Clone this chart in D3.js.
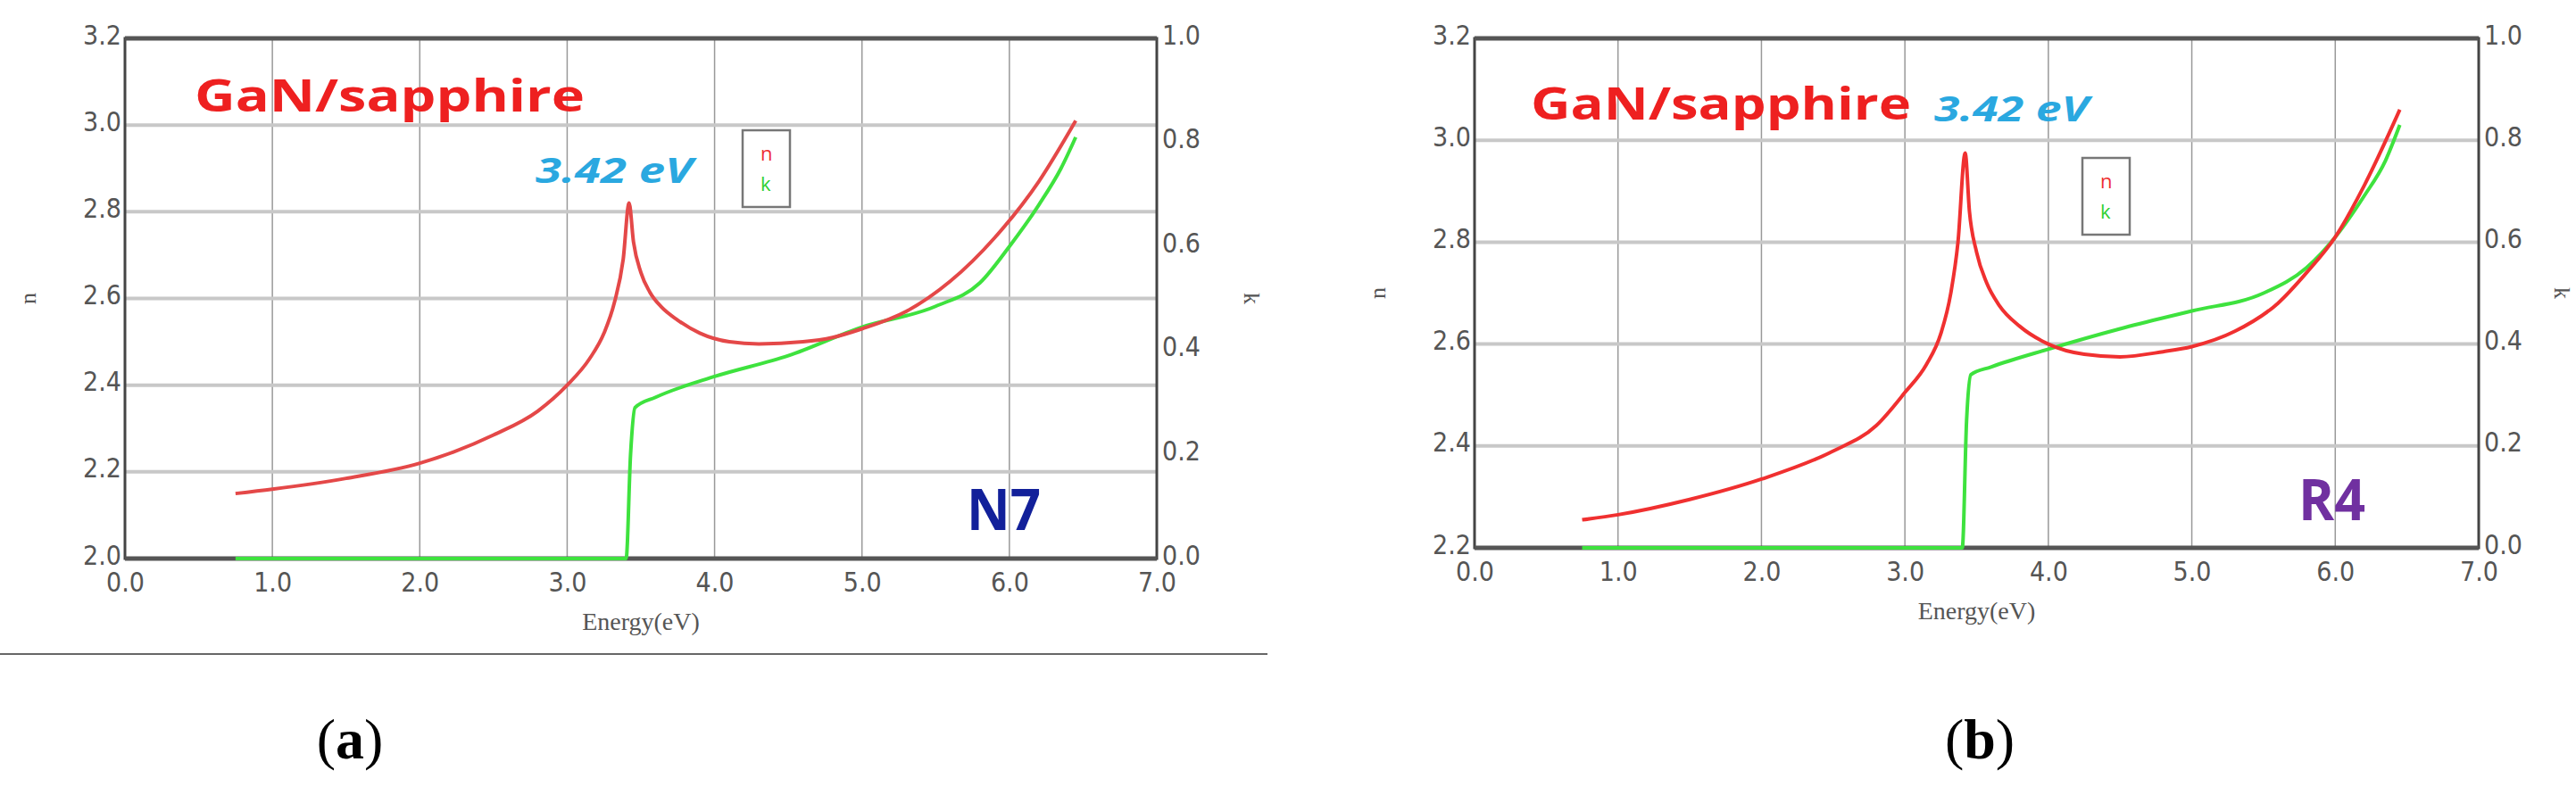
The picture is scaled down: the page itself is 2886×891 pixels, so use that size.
<!DOCTYPE html>
<html><head><meta charset="utf-8">
<script src="https://cdn.jsdelivr.net/npm/d3@7"></script>
<style>body{margin:0;background:#fff}</style></head>
<body><svg id="c" width="2886" height="891"></svg>
<script>
const xTicks=[0,1,2,3,4,5,6,7];
const kTicks=[0,0.2,0.4,0.6,0.8,1.0];
const nA_E=[0.75,1.0,1.5,2.0,2.5,2.8,3.0,3.15,3.25,3.32,3.38,3.42,3.45,3.5,3.56,3.64,3.75,3.9,4.1,4.3,4.6,4.8,5.0,5.3,5.6,5.9,6.2,6.45];
const nA_V=[2.15,2.16,2.185,2.22,2.285,2.34,2.40,2.46,2.52,2.59,2.69,2.82,2.73,2.66,2.615,2.58,2.55,2.52,2.50,2.495,2.50,2.51,2.53,2.57,2.64,2.74,2.87,3.01];
const kA_E=[0.75,3.40,3.43,3.46,3.6,4.0,4.5,5.0,5.5,5.8,6.0,6.2,6.35,6.45];
const kA_V=[0,0,0.2,0.29,0.31,0.35,0.39,0.445,0.485,0.53,0.60,0.68,0.75,0.81];
const nB_E=[0.75,1.0,1.5,2.0,2.5,2.8,3.0,3.15,3.25,3.32,3.37,3.42,3.45,3.5,3.57,3.66,3.8,4.0,4.25,4.5,4.8,5.0,5.3,5.6,5.8,6.0,6.2,6.45];
const nB_V=[2.255,2.265,2.295,2.335,2.39,2.44,2.505,2.56,2.62,2.70,2.80,2.975,2.86,2.78,2.72,2.675,2.635,2.60,2.58,2.575,2.585,2.595,2.625,2.68,2.74,2.81,2.91,3.06];
const kB_E=[0.75,3.40,3.43,3.46,3.6,4.0,4.5,5.0,5.5,5.8,6.0,6.2,6.35,6.45];
const kB_V=[0,0,0.25,0.34,0.355,0.39,0.43,0.465,0.50,0.55,0.61,0.69,0.76,0.83];

const svg=d3.select("#c");
const tickFont="'DejaVu Sans Condensed','Liberation Sans Narrow',sans-serif";
function panel(o){
  const g=svg.append("g");
  const x=d3.scaleLinear().domain([0,7]).range([o.l,o.r]);
  const y=d3.scaleLinear().domain(o.nDom).range([o.b,o.t]);
  const yk=d3.scaleLinear().domain([0,1]).range([o.b,o.t]);
  const nTicks=d3.range(o.nDom[0],o.nDom[1]+0.001,0.2);
  g.selectAll(".vg").data(xTicks).join("line").attr("x1",d=>x(d)).attr("x2",d=>x(d)).attr("y1",o.t).attr("y2",o.b).attr("stroke","#999").attr("stroke-width",1.5);
  g.selectAll(".hg").data(nTicks).join("line").attr("x1",o.l).attr("x2",o.r).attr("y1",d=>y(d)).attr("y2",d=>y(d)).attr("stroke","#c8c8c8").attr("stroke-width",4);
  g.append("rect").attr("x",o.l).attr("y",o.t).attr("width",o.r-o.l).attr("height",o.b-o.t).attr("fill","none").attr("stroke","#444").attr("stroke-width",3);
  g.append("line").attr("x1",o.l).attr("x2",o.r).attr("y1",o.t).attr("y2",o.t).attr("stroke","#555").attr("stroke-width",5);
  g.append("line").attr("x1",o.l).attr("x2",o.r).attr("y1",o.b).attr("y2",o.b).attr("stroke","#555").attr("stroke-width",5);
  const ax=g.append("g").attr("transform",`translate(0,${o.b})`).call(d3.axisBottom(x).tickValues(xTicks).tickFormat(d3.format(".1f")).tickSize(0).tickPadding(10));
  const ay=g.append("g").attr("transform",`translate(${o.l},0)`).call(d3.axisLeft(y).tickValues(nTicks).tickFormat(d3.format(".1f")).tickSize(0).tickPadding(4));
  const ak=g.append("g").attr("transform",`translate(${o.r},0)`).call(d3.axisRight(yk).tickValues(kTicks).tickFormat(d3.format(".1f")).tickSize(0).tickPadding(6));
  [ax,ay,ak].forEach(a=>{a.select(".domain").remove();a.selectAll("text").attr("font-family",tickFont).attr("font-size",30).attr("fill","#555");});
  ax.selectAll("text").attr("dy","0.9em");
  ay.selectAll("text").attr("dy","0.2em");
  ak.selectAll("text").attr("dy","0.2em");
  g.append("text").attr("x",(o.l+o.r)/2).attr("y",o.b+80).attr("text-anchor","middle").attr("font-family","'Liberation Serif',serif").attr("font-size",28).attr("fill","#555").text("Energy(eV)");
  g.append("text").attr("transform",`translate(${o.l-100},${(o.t+o.b)/2}) rotate(-90)`).attr("text-anchor","middle").attr("font-family","'Liberation Serif',serif").attr("font-size",26).attr("fill","#555").text("n");
  g.append("text").attr("transform",`translate(${o.r+o.kOff},${(o.t+o.b)/2}) rotate(90)`).attr("text-anchor","middle").attr("font-family","'Liberation Serif',serif").attr("font-size",26).attr("fill","#555").text("k");
  const ln=d3.line().curve(d3.curveMonotoneX);
  g.append("path").attr("d",ln(o.kE.map((e,i)=>[x(e),yk(o.kV[i])]))).attr("fill","none").attr("stroke","#3ee23e").attr("stroke-width",4);
  g.append("path").attr("d",ln(o.nE.map((e,i)=>[x(e),y(o.nV[i])]))).attr("fill","none").attr("stroke",o.nCol).attr("stroke-width",4);
  const bold="'Open Sans',sans-serif";
  g.append("text").attr("x",o.title[0]).attr("y",o.title[1]).attr("font-family",bold).attr("font-weight",700).attr("font-size",50).attr("fill","#ee2020").attr("textLength",o.title[2]).attr("lengthAdjust","spacingAndGlyphs").text("GaN/sapphire");
  g.append("text").attr("x",o.ev[0]).attr("y",o.ev[1]).attr("font-family",bold).attr("font-weight",700).attr("font-style","italic").attr("font-size",40).attr("fill","#2aa8e0").attr("textLength",o.ev[2]).attr("lengthAdjust","spacingAndGlyphs").text("3.42 eV");
  g.append("rect").attr("x",o.leg[0]).attr("y",o.leg[1]).attr("width",53).attr("height",86).attr("fill","#fff").attr("stroke","#777").attr("stroke-width",2.5);
  g.append("text").attr("x",o.leg[0]+20).attr("y",o.leg[1]+34).attr("font-family",bold).attr("font-size",22).attr("fill","#ee3030").text("n");
  g.append("text").attr("x",o.leg[0]+20).attr("y",o.leg[1]+68).attr("font-family",bold).attr("font-size",22).attr("fill","#30d030").text("k");
  g.append("text").attr("x",o.tag[0]).attr("y",o.tag[1]).attr("font-family",bold).attr("font-weight",700).attr("font-size",64).attr("fill",o.tag[2]).attr("textLength",o.tag[3]).attr("lengthAdjust","spacingAndGlyphs").text(o.tag[4]);
  svg.append("text").attr("x",o.cap[0]).attr("y",850).attr("text-anchor","middle").attr("font-family","'Liberation Serif',serif").attr("font-size",64).attr("fill","#000").html('(<tspan font-weight="700">'+o.cap[1]+'</tspan>)');
}
panel({l:140,r:1296,t:43,b:626,nDom:[2.0,3.2],nE:nA_E,nV:nA_V,kE:kA_E,kV:kA_V,nCol:"#e44848",kOff:98,
  title:[218,125,437],ev:[600,205,176],leg:[832,146],tag:[1083,594,"#12209a",83,"N7"],cap:[392,"a"]});
panel({l:1652,r:2777,t:43,b:614,nDom:[2.2,3.2],nE:nB_E,nV:nB_V,kE:kB_E,kV:kB_V,nCol:"#f03030",kOff:85,
  title:[1715,134,426],ev:[2167,136,173],leg:[2333,177],tag:[2575,583,"#7030a0",75,"R4"],cap:[2218,"b"]});
svg.append("line").attr("x1",0).attr("x2",1420).attr("y1",733).attr("y2",733).attr("stroke","#666").attr("stroke-width",2);
</script></body></html>
